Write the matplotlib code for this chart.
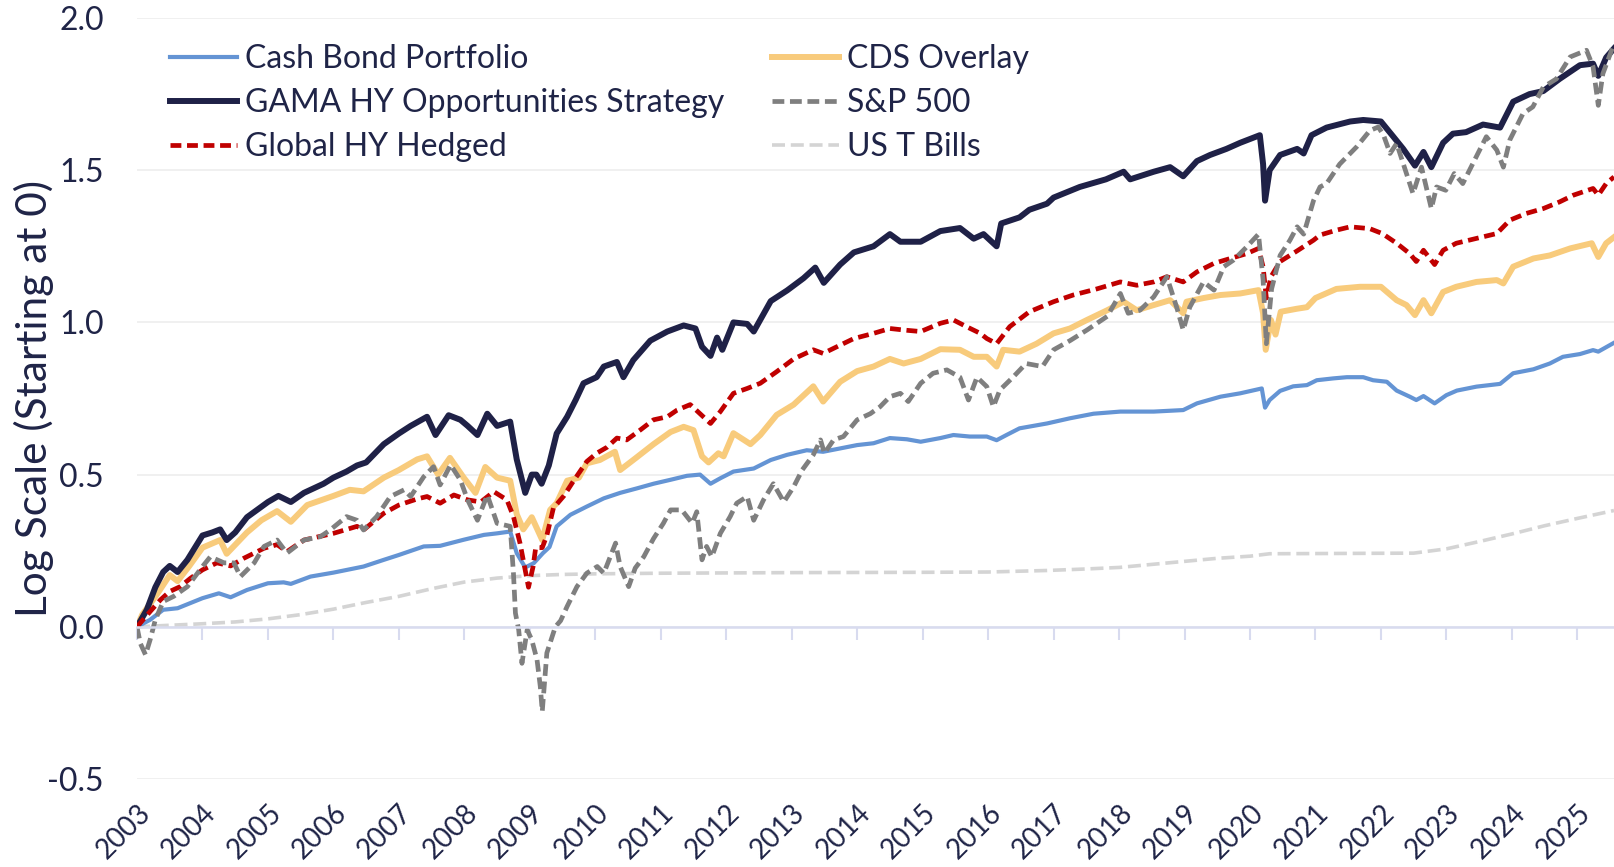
import numpy as np
import matplotlib.pyplot as plt

plt.rcParams['font.family'] = ['Lato', 'DejaVu Sans']

# ---- data (decimal year, log value) ----
gama_t = [2003.00, 2003.08, 2003.15, 2003.28, 2003.40, 2003.50, 2003.62, 2003.77, 2004.00, 2004.15,
          2004.27, 2004.37, 2004.50, 2004.68, 2005.00, 2005.16, 2005.35, 2005.55, 2005.85, 2006.00,
          2006.20, 2006.36, 2006.50, 2006.77, 2007.00, 2007.18, 2007.43, 2007.56, 2007.76, 2007.94,
          2008.05, 2008.20, 2008.35, 2008.50, 2008.70, 2008.80, 2008.93, 2009.03, 2009.10, 2009.18,
          2009.29, 2009.41, 2009.57, 2009.70, 2009.82, 2010.02, 2010.13, 2010.33, 2010.43, 2010.58,
          2010.84, 2011.10, 2011.35, 2011.53, 2011.63, 2011.76, 2011.86, 2011.94, 2012.11, 2012.32,
          2012.42, 2012.68, 2012.93, 2013.18, 2013.36, 2013.49, 2013.74, 2013.95, 2014.25, 2014.50,
          2014.66, 2014.97, 2015.27, 2015.57, 2015.78, 2015.93, 2016.13, 2016.20, 2016.48, 2016.63,
          2016.90, 2017.00, 2017.40, 2017.80, 2018.07, 2018.17, 2018.53, 2018.78, 2018.98, 2019.19,
          2019.39, 2019.64, 2019.85, 2020.15, 2020.20, 2020.23, 2020.30, 2020.46, 2020.72, 2020.82,
          2020.94, 2021.17, 2021.53, 2021.73, 2022.00, 2022.19, 2022.34, 2022.52, 2022.65, 2022.77,
          2022.95, 2023.10, 2023.30, 2023.56, 2023.82, 2024.02, 2024.27, 2024.48, 2024.73, 2025.04,
          2025.24, 2025.32, 2025.44, 2025.56]
gama_v = [0.00, 0.03, 0.056, 0.13, 0.18, 0.20, 0.18, 0.22, 0.30, 0.31,
          0.32, 0.285, 0.31, 0.36, 0.41, 0.43, 0.41, 0.44, 0.47, 0.49,
          0.51, 0.53, 0.54, 0.60, 0.635, 0.66, 0.69, 0.63, 0.695, 0.68,
          0.66, 0.63, 0.70, 0.66, 0.674, 0.55, 0.44, 0.50, 0.50, 0.47,
          0.53, 0.635, 0.69, 0.745, 0.80, 0.82, 0.855, 0.87, 0.82, 0.876,
          0.94, 0.97, 0.99, 0.98, 0.92, 0.89, 0.95, 0.91, 1.00, 0.995,
          0.97, 1.07, 1.105, 1.145, 1.18, 1.13, 1.19, 1.23, 1.25, 1.29,
          1.265, 1.265, 1.30, 1.31, 1.275, 1.29, 1.25, 1.325, 1.345, 1.37,
          1.39, 1.41, 1.445, 1.47, 1.495, 1.47, 1.495, 1.51, 1.48, 1.53,
          1.55, 1.57, 1.59, 1.615, 1.52, 1.40, 1.50, 1.55, 1.57, 1.555,
          1.615, 1.64, 1.66, 1.665, 1.66, 1.61, 1.57, 1.515, 1.56, 1.51,
          1.59, 1.62, 1.625, 1.65, 1.64, 1.725, 1.75, 1.76, 1.80, 1.845,
          1.85, 1.81, 1.87, 1.90]

cds_t = [2003.00, 2003.08, 2003.30, 2003.50, 2003.62, 2003.80, 2004.00, 2004.27, 2004.37, 2004.68,
         2004.90, 2005.14, 2005.35, 2005.60, 2006.00, 2006.25, 2006.46, 2006.77, 2007.00, 2007.28,
         2007.43, 2007.60, 2007.78, 2007.99, 2008.17, 2008.32, 2008.50, 2008.70, 2008.80, 2008.90,
         2009.03, 2009.19, 2009.31, 2009.41, 2009.57, 2009.75, 2009.87, 2010.07, 2010.30, 2010.38,
         2010.61, 2010.89, 2011.15, 2011.35, 2011.50, 2011.63, 2011.73, 2011.88, 2011.96, 2012.11,
         2012.37, 2012.52, 2012.77, 2013.03, 2013.33, 2013.48, 2013.74, 2014.00, 2014.25, 2014.50,
         2014.71, 2014.97, 2015.27, 2015.57, 2015.78, 2015.98, 2016.13, 2016.23, 2016.48, 2016.74,
         2017.00, 2017.25, 2017.51, 2017.82, 2018.07, 2018.27, 2018.53, 2018.78, 2018.98, 2019.03,
         2019.29, 2019.55, 2019.85, 2020.13, 2020.20, 2020.24, 2020.32, 2020.39, 2020.47, 2020.72,
         2020.87, 2021.00, 2021.32, 2021.68, 2022.00, 2022.24, 2022.39, 2022.52, 2022.65, 2022.77,
         2022.95, 2023.15, 2023.46, 2023.77, 2023.87, 2024.02, 2024.33, 2024.58, 2024.89, 2025.22,
         2025.32, 2025.44, 2025.56]
cds_v = [0.00, 0.04, 0.105, 0.17, 0.15, 0.20, 0.26, 0.285, 0.24, 0.31,
         0.35, 0.38, 0.345, 0.40, 0.43, 0.45, 0.445, 0.49, 0.515, 0.55,
         0.56, 0.50, 0.555, 0.49, 0.44, 0.525, 0.49, 0.48, 0.37, 0.32,
         0.36, 0.285, 0.384, 0.406, 0.48, 0.49, 0.537, 0.548, 0.575, 0.515,
         0.553, 0.60, 0.64, 0.657, 0.646, 0.56, 0.54, 0.57, 0.56, 0.636,
         0.60, 0.63, 0.696, 0.73, 0.79, 0.74, 0.805, 0.84, 0.855, 0.88,
         0.865, 0.88, 0.912, 0.91, 0.887, 0.887, 0.855, 0.91, 0.904, 0.93,
         0.964, 0.98, 1.008, 1.04, 1.068, 1.04, 1.057, 1.073, 1.03, 1.068,
         1.08, 1.09, 1.095, 1.106, 1.03, 0.91, 1.008, 0.96, 1.035, 1.045,
         1.05, 1.08, 1.11, 1.117, 1.117, 1.073, 1.057, 1.024, 1.073, 1.03,
         1.10, 1.117, 1.133, 1.139, 1.128, 1.183, 1.21, 1.22, 1.243, 1.26,
         1.215, 1.26, 1.28]

ghy_t = [2003.00, 2003.20, 2003.36, 2003.50, 2003.66, 2003.82, 2004.00, 2004.22, 2004.43, 2004.63,
         2004.94, 2005.14, 2005.29, 2005.55, 2006.00, 2006.36, 2006.46, 2006.77, 2007.00, 2007.28,
         2007.43, 2007.63, 2007.84, 2008.05, 2008.25, 2008.45, 2008.65, 2008.75, 2008.85, 2008.98,
         2009.05, 2009.09, 2009.19, 2009.26, 2009.36, 2009.52, 2009.67, 2009.87, 2010.02, 2010.18,
         2010.33, 2010.48, 2010.69, 2010.89, 2011.10, 2011.25, 2011.45, 2011.60, 2011.76, 2011.91,
         2012.11, 2012.32, 2012.52, 2012.77, 2013.03, 2013.33, 2013.48, 2013.69, 2013.95, 2014.25,
         2014.50, 2014.71, 2014.97, 2015.27, 2015.47, 2015.67, 2015.88, 2015.98, 2016.13, 2016.33,
         2016.63, 2017.00, 2017.30, 2017.66, 2018.02, 2018.27, 2018.53, 2018.73, 2018.98, 2019.19,
         2019.45, 2019.70, 2019.95, 2020.13, 2020.20, 2020.25, 2020.32, 2020.46, 2020.72, 2020.97,
         2021.07, 2021.32, 2021.53, 2021.83, 2022.02, 2022.24, 2022.44, 2022.54, 2022.65, 2022.82,
         2022.95, 2023.15, 2023.46, 2023.77, 2023.97, 2024.22, 2024.48, 2024.73, 2024.94, 2025.24,
         2025.32, 2025.44, 2025.56]
ghy_v = [0.00, 0.05, 0.089, 0.116, 0.132, 0.16, 0.187, 0.21, 0.20, 0.225,
         0.258, 0.27, 0.247, 0.285, 0.307, 0.33, 0.318, 0.373, 0.40, 0.42,
         0.428, 0.406, 0.433, 0.417, 0.41, 0.444, 0.417, 0.362, 0.275, 0.13,
         0.198, 0.26, 0.26, 0.30, 0.39, 0.43, 0.48, 0.543, 0.57, 0.59,
         0.62, 0.614, 0.647, 0.68, 0.69, 0.712, 0.73, 0.70, 0.668, 0.707,
         0.767, 0.783, 0.80, 0.838, 0.88, 0.91, 0.898, 0.92, 0.947, 0.964,
         0.98, 0.975, 0.97, 0.997, 1.008, 0.986, 0.964, 0.947, 0.93, 0.986,
         1.035, 1.068, 1.09, 1.11, 1.133, 1.122, 1.133, 1.15, 1.133, 1.166,
         1.194, 1.21, 1.226, 1.243, 1.183, 1.08, 1.15, 1.20, 1.235, 1.27,
         1.287, 1.303, 1.314, 1.308, 1.292, 1.26, 1.226, 1.20, 1.237, 1.19,
         1.237, 1.26, 1.276, 1.292, 1.336, 1.358, 1.374, 1.396, 1.418, 1.44,
         1.418, 1.456, 1.478]

cash_t = [2003.00, 2003.20, 2003.40, 2003.62, 2004.00, 2004.25, 2004.43, 2004.68, 2005.00, 2005.24,
          2005.35, 2005.65, 2006.00, 2006.46, 2006.77, 2007.00, 2007.38, 2007.63, 2007.99, 2008.30,
          2008.50, 2008.70, 2008.80, 2008.93, 2009.06, 2009.20, 2009.30, 2009.41, 2009.62, 2009.87,
          2010.13, 2010.38, 2010.64, 2010.89, 2011.15, 2011.40, 2011.60, 2011.76, 2011.91, 2012.11,
          2012.42, 2012.68, 2012.93, 2013.23, 2013.48, 2013.74, 2014.00, 2014.25, 2014.50, 2014.76,
          2014.97, 2015.27, 2015.47, 2015.72, 2015.98, 2016.13, 2016.28, 2016.48, 2016.90, 2017.25,
          2017.61, 2018.02, 2018.53, 2018.98, 2019.19, 2019.55, 2019.85, 2020.18, 2020.23, 2020.30,
          2020.46, 2020.66, 2020.87, 2021.02, 2021.27, 2021.48, 2021.73, 2021.88, 2022.09, 2022.24,
          2022.44, 2022.54, 2022.65, 2022.82, 2023.00, 2023.16, 2023.46, 2023.82, 2024.02, 2024.33,
          2024.58, 2024.78, 2025.04, 2025.24, 2025.32, 2025.56]
cash_v = [0.00, 0.023, 0.056, 0.061, 0.094, 0.11, 0.097, 0.121, 0.143, 0.146,
          0.141, 0.165, 0.178, 0.198, 0.22, 0.236, 0.264, 0.266, 0.286, 0.302,
          0.307, 0.313, 0.242, 0.195, 0.209, 0.242, 0.262, 0.33, 0.368, 0.395,
          0.422, 0.44, 0.455, 0.47, 0.483, 0.496, 0.50, 0.47, 0.488, 0.51,
          0.52, 0.548, 0.565, 0.58, 0.575, 0.586, 0.597, 0.603, 0.62, 0.616,
          0.608, 0.62, 0.63, 0.625, 0.625, 0.613, 0.63, 0.652, 0.668, 0.685,
          0.70, 0.707, 0.707, 0.712, 0.734, 0.756, 0.767, 0.783, 0.72, 0.745,
          0.775, 0.79, 0.794, 0.81, 0.816, 0.82, 0.82, 0.81, 0.805, 0.776,
          0.756, 0.745, 0.758, 0.734, 0.761, 0.776, 0.789, 0.798, 0.833, 0.846,
          0.865, 0.887, 0.896, 0.909, 0.904, 0.933]

spx_t = [2003.00, 2003.05, 2003.13, 2003.20, 2003.28, 2003.40, 2003.56, 2003.77, 2004.00, 2004.12,
         2004.33, 2004.48, 2004.58, 2004.79, 2004.94, 2005.14, 2005.29, 2005.55, 2005.80, 2005.95,
         2006.20, 2006.36, 2006.46, 2006.66, 2006.87, 2007.08, 2007.18, 2007.38, 2007.53, 2007.63,
         2007.79, 2007.94, 2008.05, 2008.20, 2008.35, 2008.50, 2008.70, 2008.75, 2008.78, 2008.83,
         2008.88, 2008.96, 2009.03, 2009.11, 2009.16, 2009.19, 2009.26, 2009.39, 2009.47, 2009.57,
         2009.72, 2009.87, 2010.03, 2010.13, 2010.31, 2010.38, 2010.51, 2010.61, 2010.74, 2010.89,
         2011.04, 2011.15, 2011.32, 2011.48, 2011.55, 2011.63, 2011.70, 2011.78, 2011.91, 2012.06,
         2012.16, 2012.32, 2012.42, 2012.57, 2012.72, 2012.88, 2013.03, 2013.16, 2013.33, 2013.44,
         2013.50, 2013.64, 2013.79, 2014.00, 2014.20, 2014.35, 2014.50, 2014.66, 2014.78, 2014.97,
         2015.16, 2015.37, 2015.57, 2015.70, 2015.83, 2015.98, 2016.08, 2016.18, 2016.38, 2016.58,
         2016.83, 2017.00, 2017.25, 2017.51, 2017.82, 2018.02, 2018.14, 2018.32, 2018.53, 2018.73,
         2018.88, 2018.98, 2019.08, 2019.29, 2019.45, 2019.60, 2019.75, 2019.95, 2020.13, 2020.20,
         2020.25, 2020.33, 2020.46, 2020.61, 2020.72, 2020.82, 2020.97, 2021.07, 2021.17, 2021.37,
         2021.63, 2021.83, 2021.96, 2022.04, 2022.14, 2022.24, 2022.39, 2022.49, 2022.62, 2022.77,
         2022.85, 2022.99, 2023.12, 2023.25, 2023.40, 2023.61, 2023.77, 2023.87, 2023.97, 2024.17,
         2024.32, 2024.48, 2024.68, 2024.89, 2025.14, 2025.24, 2025.32, 2025.39, 2025.56]
spx_v = [0.00, -0.054, -0.092, -0.043, 0.023, 0.083, 0.10, 0.132, 0.198, 0.23,
         0.21, 0.21, 0.165, 0.21, 0.264, 0.285, 0.242, 0.285, 0.296, 0.318,
         0.362, 0.35, 0.318, 0.362, 0.428, 0.45, 0.428, 0.493, 0.526, 0.466,
         0.532, 0.482, 0.417, 0.35, 0.433, 0.34, 0.33, 0.176, 0.045, -0.01,
         -0.12, -0.01, -0.043, -0.108, -0.196, -0.278, -0.086, 0.0, 0.02, 0.067,
         0.132, 0.176, 0.198, 0.176, 0.275, 0.198, 0.132, 0.193, 0.23, 0.29,
         0.34, 0.384, 0.384, 0.34, 0.378, 0.22, 0.264, 0.23, 0.307, 0.362,
         0.406, 0.428, 0.35, 0.417, 0.47, 0.41, 0.46, 0.515, 0.565, 0.614,
         0.57, 0.614, 0.625, 0.68, 0.70, 0.723, 0.756, 0.767, 0.74, 0.80,
         0.833, 0.844, 0.82, 0.745, 0.82, 0.789, 0.723, 0.778, 0.82, 0.865,
         0.855, 0.91, 0.94, 0.975, 1.02, 1.095, 1.03, 1.04, 1.084, 1.15,
         1.05, 0.975, 1.05, 1.133, 1.106, 1.183, 1.205, 1.248, 1.29, 1.14,
         0.93, 1.11, 1.22, 1.27, 1.314, 1.29, 1.40, 1.445, 1.456, 1.52,
         1.577, 1.63, 1.642, 1.615, 1.555, 1.588, 1.489, 1.423, 1.51, 1.374,
         1.445, 1.434, 1.489, 1.456, 1.52, 1.61, 1.566, 1.51, 1.60, 1.686,
         1.708, 1.773, 1.80, 1.872, 1.894, 1.84, 1.713, 1.817, 1.915]

tbill_t = [2003.0, 2003.5, 2004.0, 2004.5, 2005.0, 2005.5, 2006.0, 2006.5, 2007.0, 2007.5,
           2008.0, 2008.5, 2009.0, 2009.5, 2010.0, 2011.0, 2013.0, 2015.0, 2016.0, 2016.9,
           2017.5, 2018.0, 2018.5, 2019.0, 2019.5, 2020.0, 2020.3, 2022.5, 2023.0, 2023.5,
           2024.0, 2024.5, 2025.0, 2025.56]
tbill_v = [0.0, 0.005, 0.01, 0.016, 0.026, 0.04, 0.058, 0.08, 0.10, 0.125,
           0.147, 0.16, 0.168, 0.172, 0.174, 0.176, 0.178, 0.179, 0.18, 0.185,
           0.19, 0.195, 0.205, 0.215, 0.225, 0.232, 0.24, 0.242, 0.256, 0.28,
           0.305, 0.332, 0.356, 0.382]

years = list(range(2003, 2026))
yticks = [-0.5, 0.0, 0.5, 1.0, 1.5, 2.0]

txt = '#1f2447'
navy = '#1f2147'
blue = '#6494d4'
yellow = '#f8cb7c'
red = '#c00000'
gray = '#7f7f7f'
light = '#d4d4d4'

fig = plt.figure(figsize=(16.14, 8.67), dpi=100)
ax = fig.add_axes([137 / 1614, 1 - 779 / 867, 1 - 137 / 1614, (779 - 18) / 867])

l_tb, = ax.plot(tbill_t, tbill_v, color=light, lw=2.6, dashes=(3.6, 1.6), label='US T Bills')
l_cash, = ax.plot(cash_t, cash_v, color=blue, lw=3.0, label='Cash Bond Portfolio')
l_cds, = ax.plot(cds_t, cds_v, color=yellow, lw=4.3, label='CDS Overlay')
l_gama, = ax.plot(gama_t, gama_v, color=navy, lw=4.3, label='GAMA HY Opportunities Strategy')
l_ghy, = ax.plot(ghy_t, ghy_v, color=red, lw=3.4, dashes=(2.3, 1.2), label='Global HY Hedged')
l_spx, = ax.plot(spx_t, spx_v, color=gray, lw=3.4, dashes=(2.5, 1.2), label='S&P 500')

ax.set_xlim(2003, 2025.56)
ax.set_ylim(-0.5, 2.0)

# zero line acts as the x axis, labels sit at the bottom
ax.spines['bottom'].set_position(('data', 0))
ax.spines['bottom'].set_color('#d8dbef')
ax.spines['bottom'].set_linewidth(1.8)
for s in ['top', 'right', 'left']:
    ax.spines[s].set_visible(False)
ax.set_xticks(years)
ax.tick_params(axis='x', direction='out', length=9, width=1.5, color='#d8dbef', labelbottom=False)

sec = ax.secondary_xaxis('bottom')
sec.set_xticks(years)
sec.set_xticklabels([str(y) for y in years], rotation=45, ha='right', rotation_mode='anchor',
                    fontsize=20, color=txt)
sec.tick_params(length=0, pad=15)
sec.spines['bottom'].set_visible(False)

ax.set_yticks(yticks)
ax.set_yticklabels(['-0.5', '0.0', '0.5', '1.0', '1.5', '2.0'], fontsize=23, color=txt)
ax.tick_params(axis='y', length=0, pad=24)
ax.grid(axis='y', color='#efefef', lw=1.3)
ax.set_axisbelow(True)

ax.set_ylabel('Log Scale (Starting at 0)', fontsize=30.5, color=txt, va='center')
ax.yaxis.set_label_coords(-0.0697, 0.5)

handles = [l_cash, l_gama, l_ghy, l_cds, l_spx, l_tb]
ax.legend(handles=handles, ncol=2, frameon=False, fontsize=23, labelcolor=txt,
          loc='upper left', bbox_to_anchor=(0.0135, 0.982), borderaxespad=0,
          handlelength=2.1, handletextpad=0.25, columnspacing=1.5, labelspacing=0.43)

fig.savefig('out.png', dpi=100)
